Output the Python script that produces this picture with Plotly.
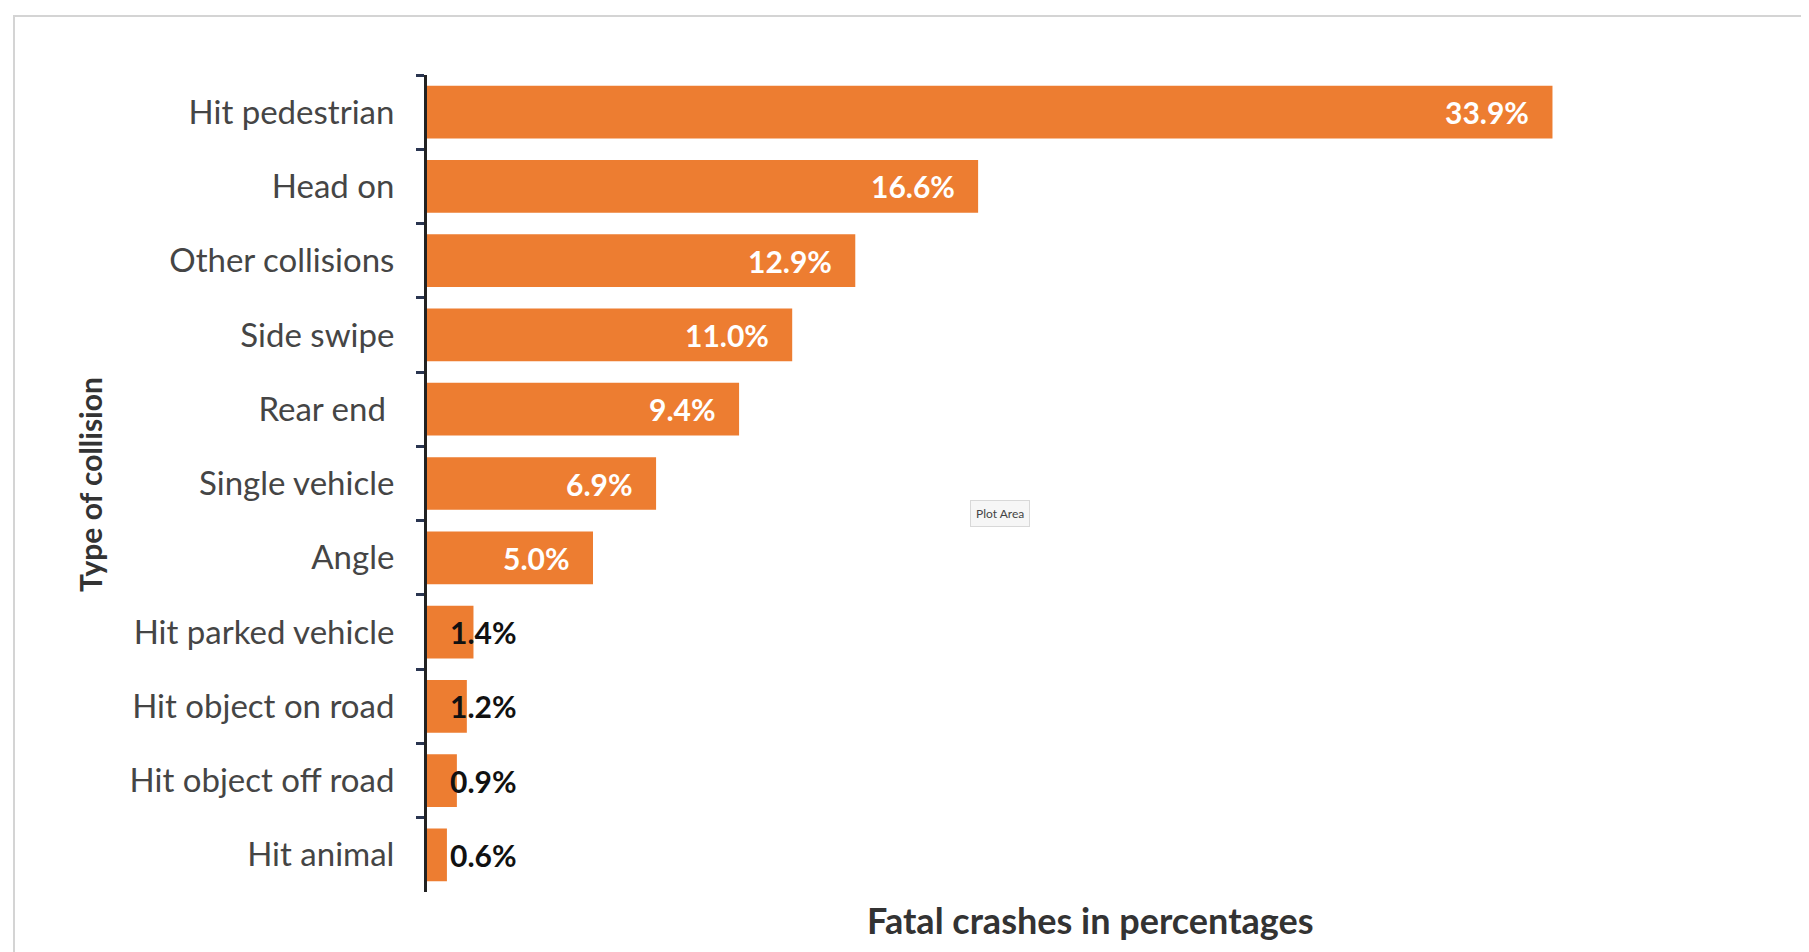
import plotly.graph_objects as go

categories = ["Hit pedestrian", "Head on", "Other collisions", "Side swipe", "Rear end ",
              "Single vehicle", "Angle", "Hit parked vehicle", "Hit object on road",
              "Hit object off road", "Hit animal"]
values = [33.9, 16.6, 12.9, 11.0, 9.4, 6.9, 5.0, 1.4, 1.2, 0.9, 0.6]
labels = ["33.9%", "16.6%", "12.9%", "11.0%", "9.4%", "6.9%", "5.0%", "1.4%", "1.2%", "0.9%", "0.6%"]

OFF = 8  # default page body margin
W, H = 1809 - OFF, 952 - OFF
L, R, T, B = 427 - OFF, 1753 - OFF, 75 - OFF, 892 - OFF
pw, ph = R - L, B - T
px_per_unit = 33.2

def paper_x(px):
    return (px - OFF - L) / pw

def paper_y(py):
    return (B - (py - OFF)) / ph

ORANGE = "#ED7D31"

fig = go.Figure(go.Bar(
    x=values, y=categories, orientation="h",
    marker=dict(color=ORANGE, line=dict(width=0)),
    hoverinfo="skip",
))

annotations = []
for cat, v, lab in zip(categories, values, labels):
    if v >= 5:
        annotations.append(dict(x=v, y=cat, xref="x", yref="y", text=lab, showarrow=False,
                                xanchor="right", xshift=-21,
                                font=dict(family="Lato", size=30, color="white", weight="bold")))
    else:
        annotations.append(dict(x=0, y=cat, xref="x", yref="y", text=lab, showarrow=False,
                                xanchor="left", xshift=21,
                                font=dict(family="Lato", size=30, color="#111111", weight="bold")))

annotations.append(dict(x=paper_x(1000), y=paper_y(513), xref="paper", yref="paper",
                        text="Plot Area", showarrow=False,
                        font=dict(family="Lato", size=12, color="#444444"),
                        bgcolor="#f6f6f6", bordercolor="#d8d8d8", borderwidth=1, borderpad=5))

annotations.append(dict(x=paper_x(90), y=paper_y(485), xref="paper", yref="paper",
                        text="Type of collision", showarrow=False, textangle=-90,
                        xanchor="center", yanchor="middle",
                        font=dict(family="Lato", size=30, color="#333333", weight="bold")))

annotations.append(dict(x=paper_x(1090), y=paper_y(920), xref="paper", yref="paper",
                        text="Fatal crashes in percentages", showarrow=False,
                        xanchor="center", yanchor="middle",
                        font=dict(family="Lato", size=36, color="#333333", weight="bold")))

fig.update_layout(
    width=W, height=H,
    margin=dict(l=L, r=W - R, t=T, b=H - B),
    paper_bgcolor="white", plot_bgcolor="white",
    showlegend=False,
    bargap=0.29,
    annotations=annotations,
    shapes=[dict(type="rect", xref="paper", yref="paper",
                 x0=paper_x(14), x1=paper_x(1830), y0=paper_y(16), y1=paper_y(980),
                 line=dict(color="#d4d4d4", width=2), fillcolor="rgba(0,0,0,0)", layer="below")],
    xaxis=dict(range=[0, pw / px_per_unit], showgrid=False, zeroline=False, showline=False,
               showticklabels=False, ticks=""),
    yaxis=dict(categoryorder="array", categoryarray=categories, autorange="reversed",
               showgrid=False, zeroline=False, showline=True, linecolor="#222222", linewidth=3,
               ticks="outside", tickson="boundaries", ticklen=8, tickwidth=3, tickcolor="#2a3550",
               ticklabelstandoff=23,
               tickfont=dict(family="Lato", size=33, color="#454545")),
)

fig.write_html("out.html")
